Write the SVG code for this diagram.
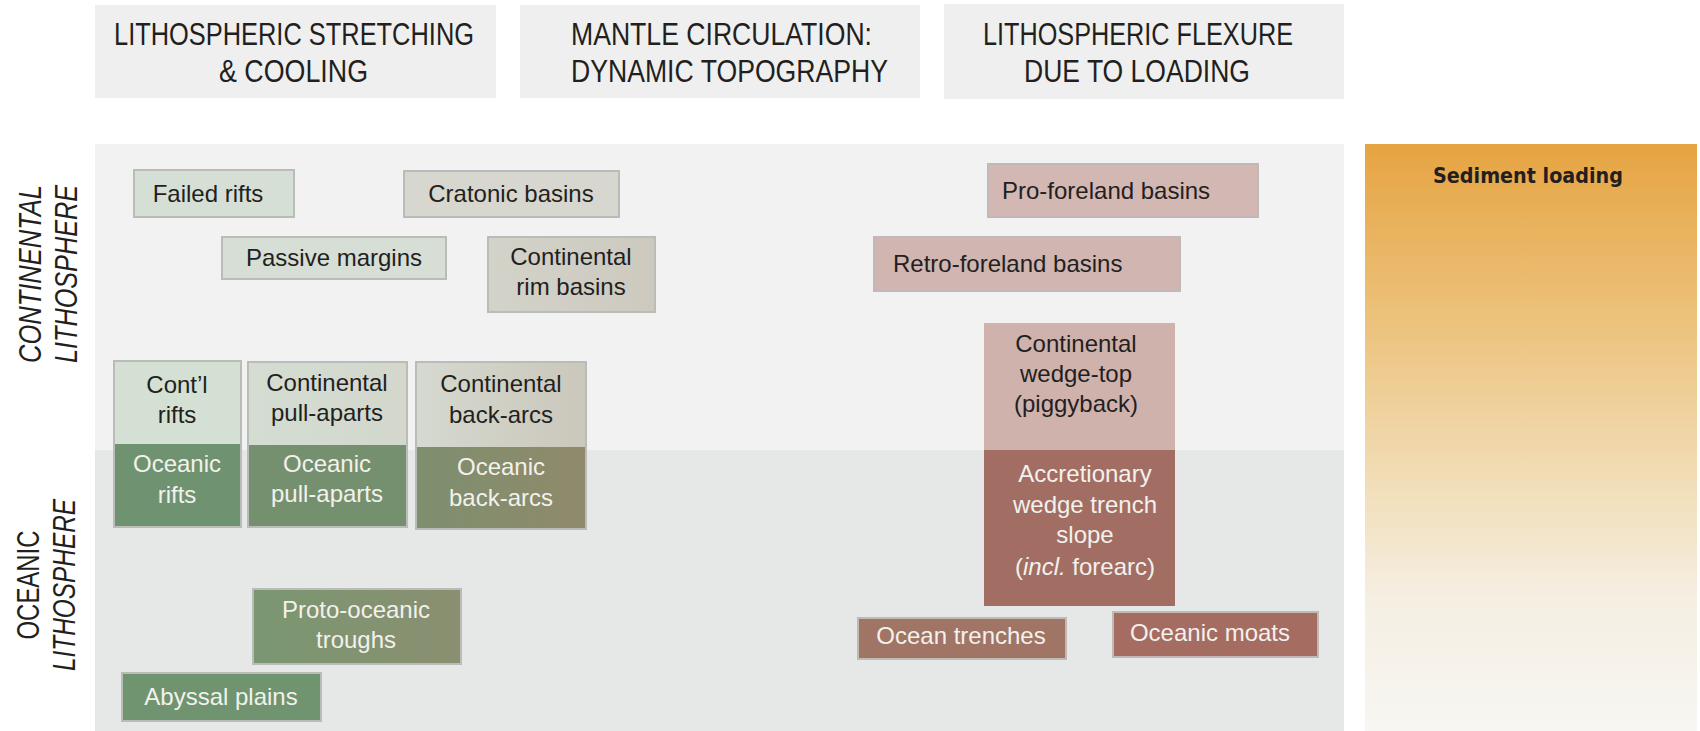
<svg xmlns="http://www.w3.org/2000/svg" width="1700" height="731" viewBox="0 0 1700 731">
<defs>
<style>
.hdr{fill:#efefef}
.ht{font-family:"Liberation Sans",Arial,sans-serif;font-size:31px;fill:#231f20}
.bt{font-family:"Liberation Sans",Arial,sans-serif;font-size:24px;fill:#231f20;text-anchor:middle}
.wt{font-family:"Liberation Sans",Arial,sans-serif;font-size:24px;fill:#f3f1ec;text-anchor:middle}
.lbl{font-family:"Liberation Sans",Arial,sans-serif;font-size:31px;fill:#231f20;text-anchor:middle}
.bx{stroke:#b9bcb7;stroke-width:2}
.bxr{stroke:#c2b9b6;stroke-width:2}
</style>
<linearGradient id="sed" x1="0" y1="0" x2="0" y2="1">
<stop offset="0" stop-color="#e6a442"/>
<stop offset="0.3" stop-color="#ecc27c"/>
<stop offset="0.55" stop-color="#f1dbb2"/>
<stop offset="0.78" stop-color="#f5efe3"/>
<stop offset="1" stop-color="#f7f6f2"/>
</linearGradient>
<linearGradient id="backarcC" x1="0" y1="0" x2="1" y2="0">
<stop offset="0" stop-color="#d5d9cf"/>
<stop offset="1" stop-color="#cbc7bb"/>
</linearGradient>
<linearGradient id="backarcO" x1="0" y1="0" x2="1" y2="0">
<stop offset="0" stop-color="#7d8f6e"/>
<stop offset="1" stop-color="#908a6b"/>
</linearGradient>
<linearGradient id="proto" x1="0" y1="0" x2="1" y2="0">
<stop offset="0" stop-color="#7a9772"/>
<stop offset="1" stop-color="#8a8f70"/>
</linearGradient>
<linearGradient id="rim" x1="0" y1="0" x2="1" y2="0">
<stop offset="0" stop-color="#d3d3ca"/>
<stop offset="1" stop-color="#cdc9bf"/>
</linearGradient>
<linearGradient id="pull" x1="0" y1="0" x2="1" y2="0">
<stop offset="0" stop-color="#d4ddd3"/>
<stop offset="1" stop-color="#d3d7cc"/>
</linearGradient>
</defs>
<rect width="1700" height="731" fill="#ffffff"/>

<g id="backgrounds">
<rect x="95" y="144" width="1249" height="306" fill="#f2f2f2"/>
<rect x="95" y="450" width="1249" height="281" fill="#e6e7e7"/>
<rect id="sediment-loading-bar" x="1365" y="144" width="332" height="587" fill="url(#sed)"/>
</g>

<g id="row-labels">
<g id="label-continental">
<text class="lbl" font-style="italic" transform="translate(41,274) rotate(-90)" textLength="178" lengthAdjust="spacingAndGlyphs">CONTINENTAL</text>
<text class="lbl" font-style="italic" transform="translate(77,274) rotate(-90)" textLength="178" lengthAdjust="spacingAndGlyphs">LITHOSPHERE</text>
</g>
<g id="label-oceanic">
<text class="lbl" transform="translate(39,585) rotate(-90)" textLength="109" lengthAdjust="spacingAndGlyphs">OCEANIC</text>
<text class="lbl" font-style="italic" transform="translate(75,585) rotate(-90)" textLength="172" lengthAdjust="spacingAndGlyphs">LITHOSPHERE</text>
</g>
</g>

<g id="header-stretching">
<rect class="hdr" x="95" y="5" width="401" height="93"/>
<text class="ht" x="114" y="45" textLength="360" lengthAdjust="spacingAndGlyphs">LITHOSPHERIC STRETCHING</text>
<text class="ht" x="219" y="82" textLength="149" lengthAdjust="spacingAndGlyphs">&amp; COOLING</text>
</g>
<g id="header-mantle">
<rect class="hdr" x="520" y="5" width="400" height="93"/>
<text class="ht" x="571" y="45" textLength="301" lengthAdjust="spacingAndGlyphs">MANTLE CIRCULATION:</text>
<text class="ht" x="571" y="82" textLength="317" lengthAdjust="spacingAndGlyphs">DYNAMIC TOPOGRAPHY</text>
</g>
<g id="header-flexure">
<rect class="hdr" x="944" y="4" width="400" height="95"/>
<text class="ht" x="983" y="45" textLength="310" lengthAdjust="spacingAndGlyphs">LITHOSPHERIC FLEXURE</text>
<text class="ht" x="1024" y="82" textLength="226" lengthAdjust="spacingAndGlyphs">DUE TO LOADING</text>
</g>

<g id="sediment-loading">
<text x="1528" y="183" font-family="DejaVu Sans,Verdana,sans-serif" font-weight="bold" font-size="21" fill="#231f20" text-anchor="middle" textLength="190" lengthAdjust="spacingAndGlyphs">Sediment loading</text>
</g>

<g id="failed-rifts">
<rect class="bx" x="134" y="170" width="160" height="47" fill="#d6dfd6"/>
<text class="bt" x="208" y="202">Failed rifts</text>
</g>
<g id="cratonic-basins">
<rect class="bx" x="404" y="171" width="215" height="46" fill="#d7d7cf"/>
<text class="bt" x="511" y="202">Cratonic basins</text>
</g>
<g id="passive-margins">
<rect class="bx" x="222" y="237" width="224" height="42" fill="#d6ded5"/>
<text class="bt" x="334" y="266">Passive margins</text>
</g>
<g id="continental-rim-basins">
<rect class="bx" x="488" y="237" width="167" height="75" fill="url(#rim)"/>
<text class="bt" x="571" y="265">Continental</text>
<text class="bt" x="571" y="295">rim basins</text>
</g>

<g id="rifts">
<rect x="114" y="361" width="127" height="83" fill="#d5e0d5"/>
<rect x="114" y="444" width="127" height="83" fill="#6f9370"/>
<rect class="bx" x="114" y="361" width="127" height="166" fill="none"/>
<text class="bt" x="177" y="393">Cont’l</text>
<text class="bt" x="177" y="423">rifts</text>
<text class="wt" x="177" y="472">Oceanic</text>
<text class="wt" x="177" y="503">rifts</text>
</g>
<g id="pull-aparts">
<rect x="248" y="362" width="159" height="83" fill="url(#pull)"/>
<rect x="248" y="445" width="159" height="82" fill="#75906f"/>
<rect class="bx" x="248" y="362" width="159" height="165" fill="none"/>
<text class="bt" x="327" y="391">Continental</text>
<text class="bt" x="327" y="421">pull-aparts</text>
<text class="wt" x="327" y="472">Oceanic</text>
<text class="wt" x="327" y="502">pull-aparts</text>
</g>
<g id="back-arcs">
<rect x="416" y="362" width="170" height="85" fill="url(#backarcC)"/>
<rect x="416" y="447" width="170" height="82" fill="url(#backarcO)"/>
<rect class="bx" x="416" y="362" width="170" height="167" fill="none"/>
<text class="bt" x="501" y="392">Continental</text>
<text class="bt" x="501" y="423">back-arcs</text>
<text class="wt" x="501" y="475">Oceanic</text>
<text class="wt" x="501" y="506">back-arcs</text>
</g>

<g id="proto-oceanic-troughs">
<rect class="bx" x="253" y="589" width="208" height="75" fill="url(#proto)"/>
<text class="wt" x="356" y="618">Proto-oceanic</text>
<text class="wt" x="356" y="648">troughs</text>
</g>
<g id="abyssal-plains">
<rect class="bx" x="122" y="673" width="199" height="48" fill="#6f946f"/>
<text class="wt" x="221" y="705">Abyssal plains</text>
</g>

<g id="pro-foreland-basins">
<rect class="bxr" x="988" y="164" width="270" height="53" fill="#d3b7b2"/>
<text class="bt" x="1002" y="199" style="text-anchor:start">Pro-foreland basins</text>
</g>
<g id="retro-foreland-basins">
<rect class="bxr" x="874" y="237" width="306" height="54" fill="#d1b5b0"/>
<text class="bt" x="893" y="272" style="text-anchor:start">Retro-foreland basins</text>
</g>
<g id="wedge">
<rect x="984" y="323" width="191" height="127" fill="#d0b2ad"/>
<rect x="984" y="450" width="191" height="156" fill="#a26e64"/>
<text class="bt" x="1076" y="352">Continental</text>
<text class="bt" x="1076" y="382">wedge-top</text>
<text class="bt" x="1076" y="412">(piggyback)</text>
<text class="wt" x="1085" y="482">Accretionary</text>
<text class="wt" x="1085" y="513">wedge trench</text>
<text class="wt" x="1085" y="543">slope</text>
<text class="wt" x="1085" y="575">(<tspan font-style="italic">incl.</tspan> forearc)</text>
</g>
<g id="ocean-trenches">
<rect class="bxr" x="858" y="618" width="208" height="41" fill="#a07566"/>
<text class="wt" x="961" y="644">Ocean trenches</text>
</g>
<g id="oceanic-moats">
<rect class="bxr" x="1113" y="612" width="205" height="45" fill="#a56c62"/>
<text class="wt" x="1210" y="641">Oceanic moats</text>
</g>

<g id="connectors"></g>
</svg>
